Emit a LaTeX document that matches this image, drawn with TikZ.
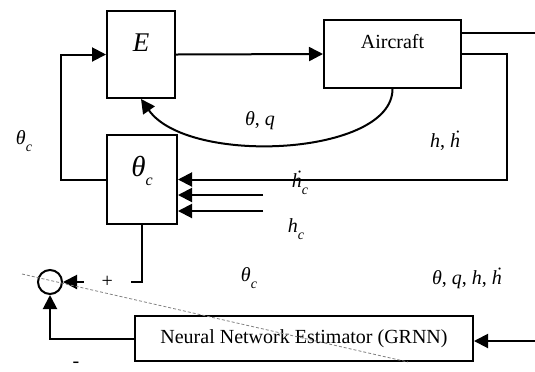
\documentclass[tikz,border=0pt]{standalone}
\usepackage{fontspec}
\setmainfont{Liberation Serif}
\usetikzlibrary{arrows.meta,positioning,shapes.geometric}
\newcommand{\vi}[1]{\textit{#1}}
\newcommand{\lowc}[1]{\raisebox{-0.33em}{\scriptsize\itshape #1}}
\newcommand{\thetac}{\vi{θ}\lowc{c}}
\newcommand{\hdot}{\vi{\.{h}}}
\tikzset{
  blockbox/.style={rectangle,draw=black,line width=1pt,align=center,
                   font=\fontsize{10}{12}\selectfont},
  bigtext/.style={font=\fontsize{13.5}{16}\selectfont},
  sumnode/.style={circle,draw=black,line width=1pt,minimum size=12pt,inner sep=0pt},
  sigtext/.style={font=\fontsize{10}{12}\selectfont,inner sep=0pt},
  arr/.style={-{Triangle[length=7pt,width=7pt]},line width=1pt},
  plainline/.style={line width=1pt},
  cutline/.style={gray,line width=0.4pt,dash pattern=on 1.5pt off 1pt}
}
\begin{document}
\begin{tikzpicture}[x=0.5pt,y=-0.5pt]
  \useasboundingbox (0,0) rectangle (535,371);

  % blocks
  \node[blockbox,bigtext,minimum width=34pt,minimum height=43.5pt,
        text height=9pt,text depth=12pt] (enc) at (141,54.5) {\vi{E}};
  \node[blockbox,minimum width=68.5pt,minimum height=34pt,
        text height=6.6pt,text depth=12pt] (air) at (392.5,54) {Aircraft};
  \node[blockbox,font=\fontsize{14.5}{17}\selectfont,minimum width=35pt,
        minimum height=44.5pt,text height=10pt,text depth=13pt]
        (thc) at (142,179.5) {\vi{θ}\raisebox{-0.3em}{\fontsize{8}{9}\selectfont\itshape c}};
  \node[blockbox,minimum width=169pt,minimum height=22.5pt]
        (nn) at (304,338.5) {Neural Network Estimator (GRNN)};
  \node[sumnode] (sum) at (50,282) {};

  % free ends
  \coordinate (outTop) at (535,33);
  \coordinate (inHdc) at (263,195);
  \coordinate (inHc) at (263,211);
  \coordinate (inNN) at (535,341);
  \coordinate (cutA) at (22,274);
  \coordinate (cutB) at (408,362);

  % signal labels
  \node[sigtext] (lblThcL) at (24,141) {\thetac};
  \node[sigtext] (lblTq) at (260,121) {\vi{θ}, \vi{q}};
  \node[sigtext] (lblHhd) at (445,141) {\vi{h}, \hdot};
  \node[sigtext] (lblHdc) at (300,183) {\hdot\lowc{c}};
  \node[sigtext] (lblHc) at (296,229) {\vi{h}\lowc{c}};
  \node[sigtext] (lblThcM) at (249,278) {\thetac};
  \node[sigtext] (lblAll) at (467,278) {\vi{θ}, \vi{q}, \vi{h}, \hdot};
  \node[sigtext] (lblMinus) at (76,365) {-};

  % connectors
  \draw[arr] (enc.east) -- (air.west);
  \draw[arr] (thc.west) -- ++(-45,0) |- (enc.west);
  \draw[arr] (air.east) -- ++(45,0) |- (thc.east);
  \draw[plainline] (air.east |- outTop) -- (outTop);
  \draw[arr] (air.south) .. controls +(0,67) and +(47,67) .. (enc.south);
  \draw[arr] (inHdc) -- (inHdc -| thc.east);
  \draw[arr] (inHc) -- (inHc -| thc.east);
  \draw[arr] (thc.south) |- node[pos=0.72,sigtext,fill=white,
        minimum width=23.5pt,minimum height=5pt]{+} (sum.east);
  \draw[arr] (nn.west) -| (sum.south);
  \draw[arr] (inNN) -- (inNN -| nn.east);
  \draw[cutline] (cutA) -- (cutB);

\end{tikzpicture}
\end{document}
